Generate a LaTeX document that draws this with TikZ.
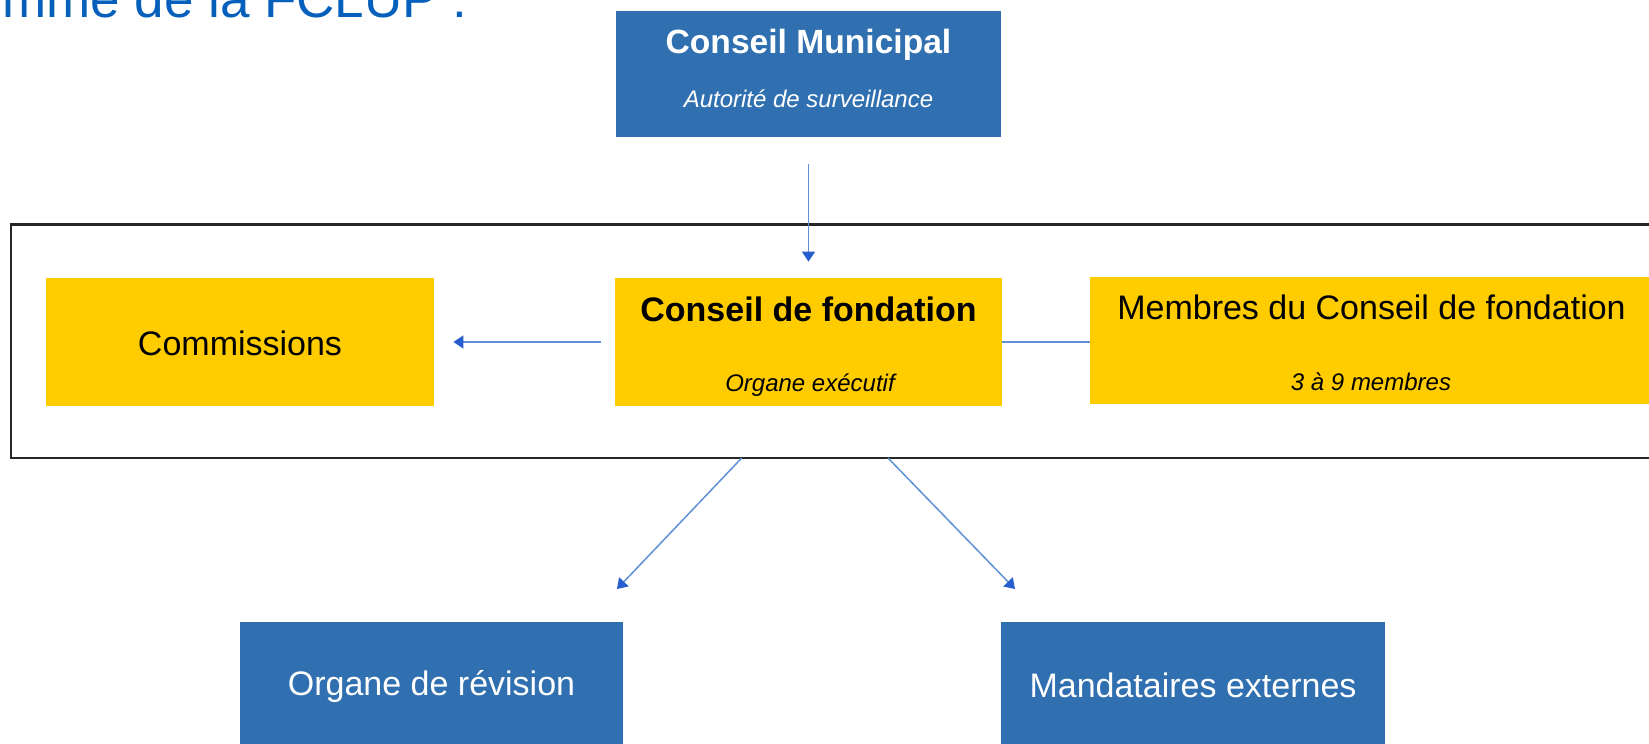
\documentclass[tikz,border=0pt]{standalone}
\usepackage{fontspec}
\setmainfont{Liberation Sans}
\usetikzlibrary{arrows.meta}
\definecolor{boxblue}{RGB}{49,112,176}
\definecolor{boxyellow}{RGB}{255,204,0}
\definecolor{titleblue}{RGB}{5,96,188}
\definecolor{lineblue}{RGB}{96,144,214}
\definecolor{headblue}{RGB}{38,94,208}
\tikzset{
  bluebox/.style={fill=boxblue, draw=none, inner sep=0pt},
  yellowbox/.style={fill=boxyellow, draw=none, inner sep=0pt},
  maintext/.style={font=\fontsize{17pt}{20pt}\selectfont, inner sep=0pt, anchor=base},
  boldtext/.style={font=\fontsize{17pt}{20pt}\selectfont\bfseries, inner sep=0pt, anchor=base},
  subtext/.style={font=\fontsize{12pt}{14pt}\selectfont\itshape, inner sep=0pt, anchor=base},
  conn/.style={draw=lineblue, line width=0.75pt},
  arr/.style={conn, -{Triangle[length=5pt,width=6.5pt,color=headblue]}},
}
\begin{document}
\begin{tikzpicture}[x=0.5pt,y=-0.5pt]
\useasboundingbox (0,0) rectangle (1649,744);
\clip (0,0) rectangle (1649,744);
\fill[white] (0,0) rectangle (1649,744);

% title (cut at the left edge)
\node[anchor=base east, inner sep=0pt, text=titleblue, font=\fontsize{26.5pt}{30pt}\selectfont] (title) at (468,18) {mme de la FCLUP :};

% frame
\node[draw=black!85, line width=1.3pt, minimum width=844.5pt, minimum height=116.75pt, inner sep=0pt] (frame) at (855.5,341.25) {};

% Conseil Municipal
\node[bluebox, minimum width=192.5pt, minimum height=63pt] (cm) at (808.5,74) {};
\node[boldtext, text=white, font=\fontsize{16.8pt}{20pt}\selectfont\bfseries] (cmt) at (808.5,54) {Conseil Municipal};
\node[subtext, text=white] (cms) at (808.5,107) {Autorité de surveillance};

% Commissions
\node[yellowbox, minimum width=194pt, minimum height=64pt] (com) at (240,342) {};
\node[maintext] (comt) at (240,355) {Commissions};

% Conseil de fondation
\node[yellowbox, minimum width=193.5pt, minimum height=64pt] (cf) at (808.5,342) {};
\node[boldtext] (cft) at (808.5,321) {Conseil de fondation};
\node[subtext] (cfs) at (810,391) {Organe exécutif};

% Membres
\node[yellowbox, minimum width=283pt, minimum height=63.5pt] (mb) at (1373,340.5) {};
\node[maintext] (mbt) at (1371.5,319) {Membres du Conseil de fondation};
\node[subtext] (mbs) at (1371,390) {3 à 9 membres};

% bottom boxes
\node[bluebox, minimum width=191.5pt, minimum height=63pt] (or) at (431.5,685) {};
\node[maintext, text=white] (ort) at (431.5,695) {Organe de révision};
\node[bluebox, minimum width=192pt, minimum height=63pt] (me) at (1193,685) {};
\node[maintext, text=white] (met) at (1193,697) {Mandataires externes};

% connectors
\draw[arr, shorten <=13.5pt, shorten >=8pt] (cm.south) -- (cf.north);
\draw[arr, shorten <=7pt, shorten >=9.5pt] (cf.west) -- (com.east |- cf.west);
\draw[conn, line width=1pt] (cf.east) -- (mb.west |- cf.east);

\coordinate (s1) at (741.7,458);
\coordinate (t1) at (617,589);
\coordinate (s2) at (888,458);
\coordinate (t2) at (1015,589);
\draw[arr] (s1) -- (t1);
\draw[arr] (s2) -- (t2);
\end{tikzpicture}
\end{document}
